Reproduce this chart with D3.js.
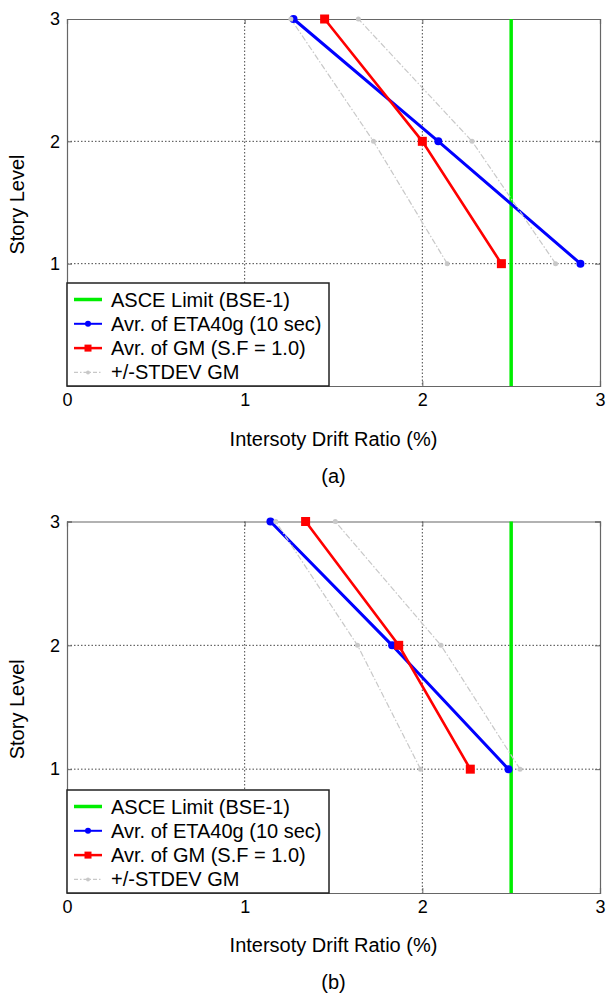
<!DOCTYPE html>
<html>
<head>
<meta charset="utf-8">
<script src="https://cdn.jsdelivr.net/npm/d3@7"></script>
<style>
  html, body { margin: 0; padding: 0; background: #fff; }
  svg text { font-family: Arial, "Liberation Sans", Helvetica, sans-serif; fill: #000; }
</style>
</head>
<body>
<svg id="chart" width="607" height="996"></svg>
<script>
// ---------- data ----------
const storyLevels = [1, 2, 3];
const xTickValues = [0, 1, 2, 3];
const yTickValues = [1, 2, 3];
const asceLimit = 2.5;

// panel (a)
const etaA     = [2.89, 2.09, 1.275];
const gmA      = [2.445, 2.0, 1.45];
const gmPlusA  = [2.75, 2.28, 1.64];
const gmMinusA = [2.14, 1.725, 1.26];

// panel (b)
const etaB     = [2.485, 1.83, 1.145];
const gmB      = [2.27, 1.867, 1.343];
const gmPlusB  = [2.55, 2.105, 1.51];
const gmMinusB = [1.99, 1.635, 1.175];

const legendLabels = ["ASCE Limit (BSE-1)", "Avr. of ETA40g (10 sec)", "Avr. of GM (S.F = 1.0)", "+/-STDEV GM"];
const xLabel = "Intersoty Drift Ratio (%)";
const yLabel = "Story Level";
const panelTags = ["(a)", "(b)"];

// ---------- drawing ----------
const svg = d3.select("#chart");
const C = { green: "#00ee00", blue: "#0000ff", red: "#ff0000", gray: "#c8c8c8", axis: "#666" };

function panel(cfg) {
  const { left, right, top, bottom, eta, gm, gmPlus, gmMinus, tag, tagY, xLabelY } = cfg;
  const g = svg.append("g");
  const x = d3.scaleLinear().domain([0, 3]).range([left, right]);
  const y = d3.scaleLinear().domain([0, 3]).range([bottom, top]);

  // gridlines
  const grid = g.append("g").attr("stroke", "#333").attr("stroke-width", 0.9).attr("stroke-dasharray", "1.5,2");
  grid.selectAll("line.vx").data(xTickValues.filter(d => d > 0 && d < 3)).join("line")
    .attr("x1", d => x(d)).attr("x2", d => x(d)).attr("y1", top).attr("y2", bottom);
  grid.selectAll("line.hy").data(yTickValues.filter(d => d < 3)).join("line")
    .attr("x1", left).attr("x2", right).attr("y1", d => y(d)).attr("y2", d => y(d));

  // axes (box with inward ticks)
  const xAxisB = d3.axisBottom(x).tickValues(xTickValues).tickSize(-5).tickPadding(7).tickFormat(d3.format("d"));
  const xAxisT = d3.axisTop(x).tickValues(xTickValues).tickSize(-5).tickFormat("");
  const yAxisL = d3.axisLeft(y).tickValues(yTickValues).tickSize(-5).tickPadding(7).tickFormat(d3.format("d"));
  const yAxisR = d3.axisRight(y).tickValues(yTickValues).tickSize(-5).tickFormat("");
  const axes = [
    g.append("g").attr("transform", `translate(0,${bottom})`).call(xAxisB),
    g.append("g").attr("transform", `translate(0,${top})`).call(xAxisT),
    g.append("g").attr("transform", `translate(${left},0)`).call(yAxisL),
    g.append("g").attr("transform", `translate(${right},0)`).call(yAxisR)
  ];
  axes.forEach(a => {
    a.attr("font-size", 18).attr("font-family", "Arial, 'Liberation Sans', sans-serif");
    a.select(".domain").attr("stroke", C.axis).attr("stroke-width", 1.2);
    a.selectAll(".tick line").attr("stroke", C.axis);
    a.selectAll(".tick text").attr("fill", "#000");
  });

  // ASCE limit
  g.append("line").attr("x1", x(asceLimit)).attr("x2", x(asceLimit)).attr("y1", top).attr("y2", bottom)
    .attr("stroke", C.green).attr("stroke-width", 3.5);

  const line = d3.line().x(d => x(d[0])).y(d => y(d[1]));
  const pts = arr => arr.map((v, i) => [v, storyLevels[i]]);

  // ETA average (blue)
  g.append("path").attr("d", line(pts(eta))).attr("fill", "none").attr("stroke", C.blue).attr("stroke-width", 3);
  g.selectAll("circle.eta").data(pts(eta)).join("circle")
    .attr("cx", d => x(d[0])).attr("cy", d => y(d[1])).attr("r", 4).attr("fill", C.blue);

  // GM average (red)
  g.append("path").attr("d", line(pts(gm))).attr("fill", "none").attr("stroke", C.red).attr("stroke-width", 2.6);
  g.selectAll("rect.gm").data(pts(gm)).join("rect")
    .attr("x", d => x(d[0]) - 4.5).attr("y", d => y(d[1]) - 4.5).attr("width", 9).attr("height", 9).attr("fill", C.red);

  // +/- STDEV
  [gmPlus, gmMinus].forEach(s => {
    g.append("path").attr("d", line(pts(s))).attr("fill", "none").attr("stroke", C.gray)
      .attr("stroke-width", 1.2).attr("stroke-dasharray", "6,2,1.5,2");
    g.selectAll(null).data(pts(s)).join("circle")
      .attr("cx", d => x(d[0])).attr("cy", d => y(d[1])).attr("r", 2.5).attr("fill", C.gray);
  });

  // legend
  const lg = g.append("g");
  const lgTop = bottom - 103, lgRight = left + 262;
  lg.append("rect").attr("x", left).attr("y", lgTop).attr("width", lgRight - left).attr("height", bottom - lgTop)
    .attr("fill", "#fff").attr("stroke", "#222").attr("stroke-width", 1.5);
  const rowY = i => lgTop + 16.5 + i * 24.3;
  const sx1 = left + 7, sx2 = left + 35;
  legendLabels.forEach((lab, i) => {
    const ry = rowY(i);
    const styles = [
      { c: C.green, w: 3.5, dash: null },
      { c: C.blue, w: 2, dash: null },
      { c: C.red, w: 2.5, dash: null },
      { c: C.gray, w: 1.2, dash: "4,2,1.5,2" }
    ][i];
    lg.append("line").attr("x1", sx1).attr("x2", sx2).attr("y1", ry).attr("y2", ry)
      .attr("stroke", styles.c).attr("stroke-width", styles.w).attr("stroke-dasharray", styles.dash);
    const mx = (sx1 + sx2) / 2;
    if (i === 1) lg.append("circle").attr("cx", mx).attr("cy", ry).attr("r", 3).attr("fill", C.blue);
    if (i === 2) lg.append("rect").attr("x", mx - 3.5).attr("y", ry - 3.5).attr("width", 7).attr("height", 7).attr("fill", C.red);
    if (i === 3) lg.append("circle").attr("cx", mx).attr("cy", ry).attr("r", 2).attr("fill", C.gray);
    lg.append("text").attr("x", left + 44).attr("y", ry + 7).attr("font-size", 20).text(lab);
  });

  // axis labels
  const cx = (left + right) / 2;
  g.append("text").attr("x", cx).attr("y", xLabelY).attr("text-anchor", "middle").attr("font-size", 20).text(xLabel);
  g.append("text").attr("transform", `translate(24,${(top + bottom) / 2 + 2}) rotate(-90)`)
    .attr("text-anchor", "middle").attr("font-size", 20).text(yLabel);
  g.append("text").attr("x", cx).attr("y", tagY).attr("text-anchor", "middle").attr("font-size", 20).text(tag);
}

panel({ left: 67, right: 600, top: 19, bottom: 386, eta: etaA, gm: gmA, gmPlus: gmPlusA, gmMinus: gmMinusA,
        tag: panelTags[0], xLabelY: 446, tagY: 483 });
panel({ left: 67, right: 600, top: 521.5, bottom: 893, eta: etaB, gm: gmB, gmPlus: gmPlusB, gmMinus: gmMinusB,
        tag: panelTags[1], xLabelY: 952, tagY: 989 });
</script>
</body>
</html>
